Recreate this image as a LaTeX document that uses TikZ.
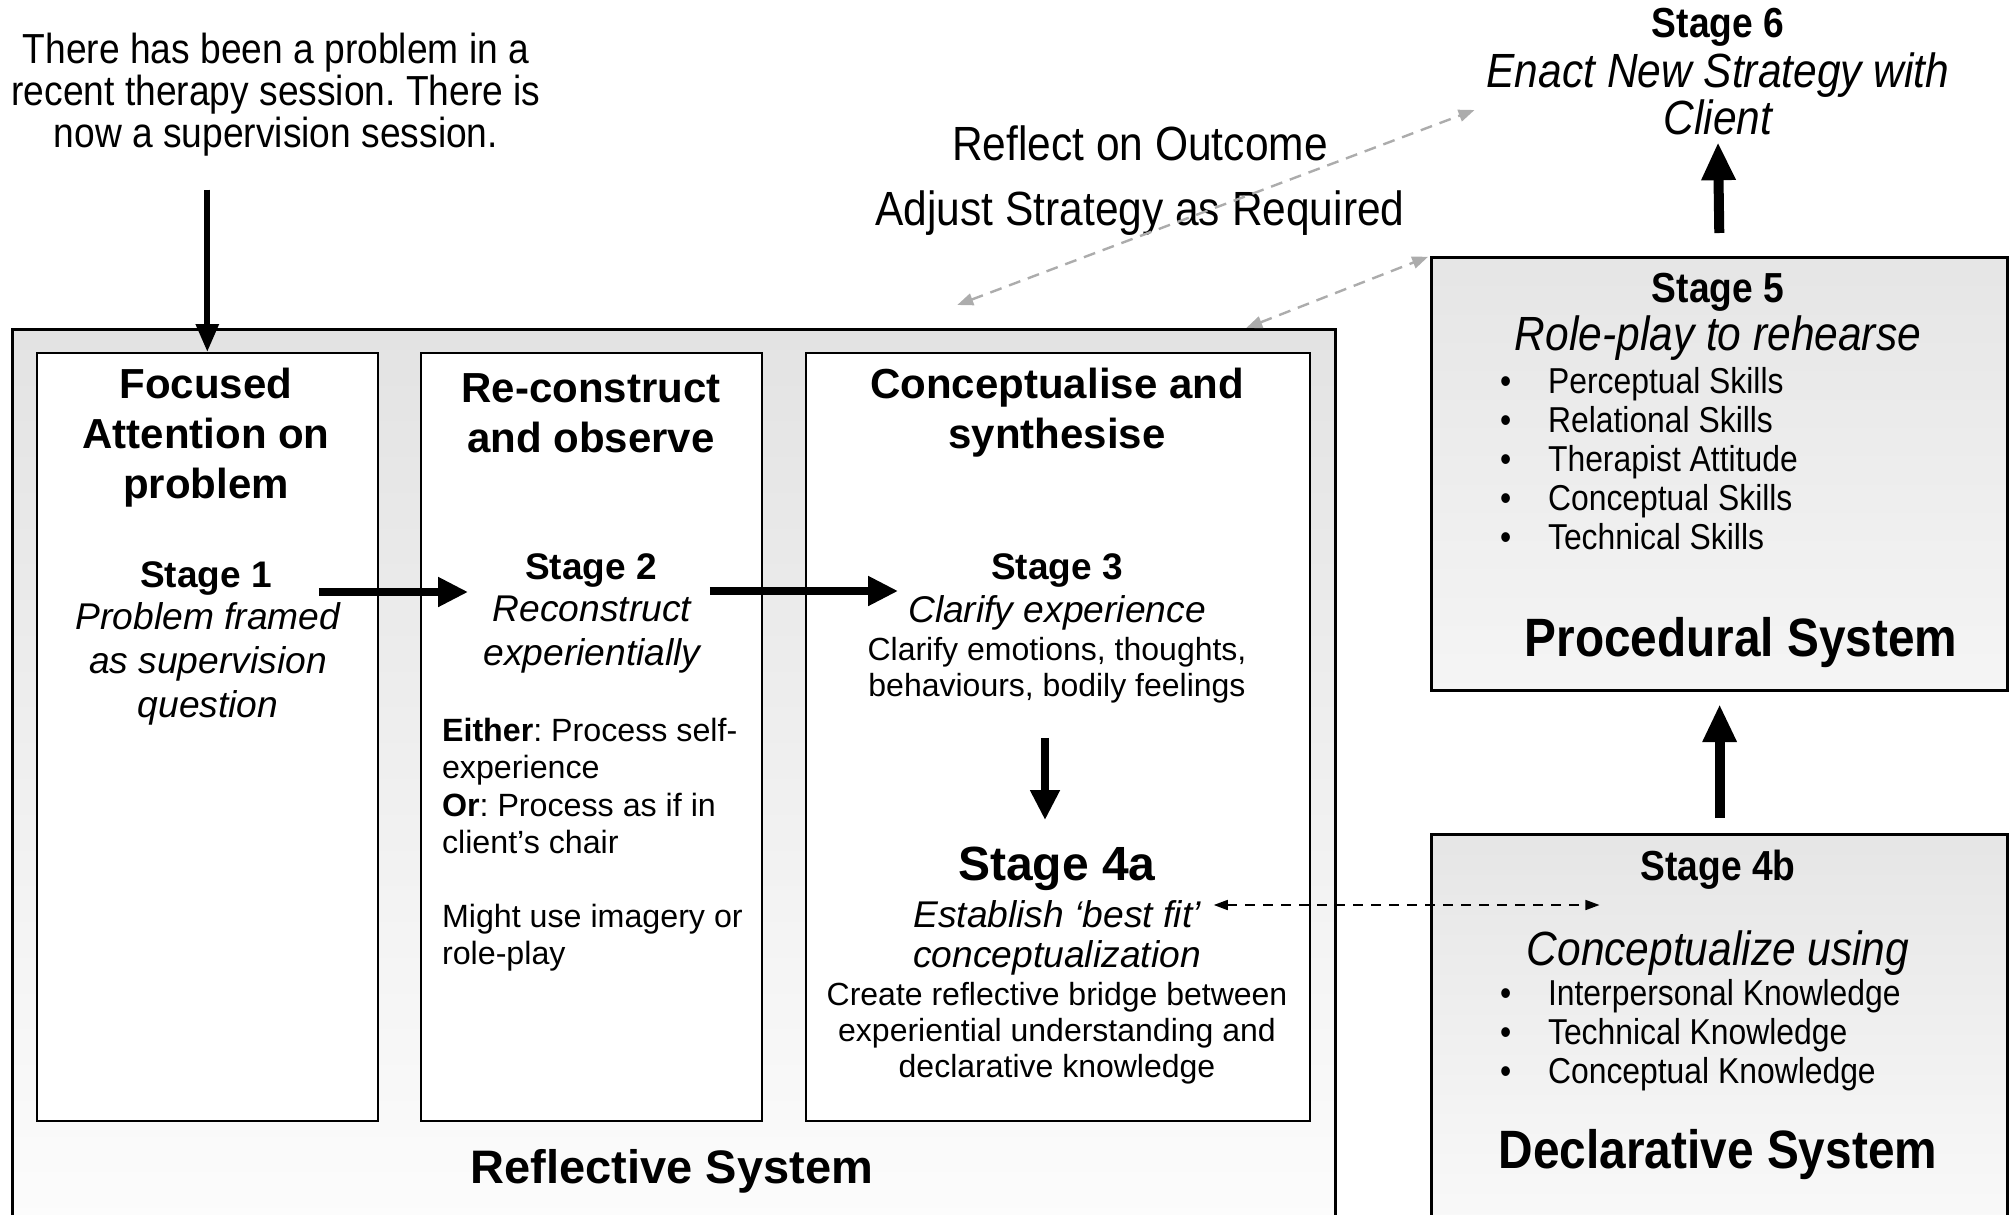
\documentclass[tikz,border=0pt]{standalone}
\usepackage{fontspec}
\setmainfont{Liberation Sans}
\newfontfamily\narrowfont[FakeStretch=0.885]{Liberation Sans}
\usetikzlibrary{arrows.meta}
\frenchspacing

\tikzset{
  sysbox/.style={draw, line width=1.6pt, inner sep=0pt},
  stagebox/.style={draw, fill=white, line width=0.8pt, inner sep=0pt},
  heading/.style={font=\fontsize{21}{25}\selectfont\bfseries, align=center},
  stagehead/.style={font=\fontsize{18.5}{22}\selectfont\bfseries},
  stageit/.style={font=\fontsize{18.6}{22}\selectfont\itshape, align=center},
  body/.style={font=\fontsize{16}{18}\selectfont, align=center},
  note/.style={font=\fontsize{16.1}{18.6}\selectfont, align=left},
  narrowhead/.style={font=\narrowfont\fontsize{21}{25}\selectfont\bfseries},
  narrowit/.style={font=\narrowfont\fontsize{24}{23.5}\selectfont\itshape, align=center},
  narrowlist/.style={font=\narrowfont\fontsize{18}{19.5}\selectfont, align=left},
  sysname/.style={font=\narrowfont\fontsize{27}{30}\selectfont\bfseries},
  fatarrow/.style={line width=4pt, -{Triangle[length=15pt,width=14pt]}},
  toparrow/.style={line width=3pt, -{Triangle[length=14pt,width=11pt]}},
  uparrow/.style={line width=5pt, -{Triangle[length=19pt,width=16pt]}},
  feedback/.style={draw=gray!65, line width=1.2pt, dash pattern=on 6pt off 4pt,
    {Triangle[length=8pt,width=6pt]}-{Triangle[length=8pt,width=6pt]}},
  linkarrow/.style={line width=0.8pt, dash pattern=on 5pt off 4pt,
    {Triangle[length=7pt,width=5pt]}-{Triangle[length=7pt,width=5pt]}},
}
\newcommand{\itm}[1]{\makebox[24pt][l]{\textbullet}#1}

\begin{document}
\begin{tikzpicture}[x=0.5pt, y=-0.5pt]
    \useasboundingbox (0,0) rectangle (2016,1214);
    % the three systems
    \node[sysbox, anchor=north west, minimum width=661.5pt, minimum height=456pt,
      top color=black!11, bottom color=black!1] (reflective) at (11,328) {};
    \node[sysbox, anchor=north west, minimum width=288pt, minimum height=216.5pt,
      top color=black!10, bottom color=black!4] (proc) at (1430,256) {};
    \node[sysbox, anchor=north west, minimum width=288pt, minimum height=203.5pt,
      top color=black!10, bottom color=black!2] (decl) at (1430,833) {};
    % stage columns
    \node[stagebox, anchor=north west, minimum width=170.5pt, minimum height=384pt] (focus) at (36,352) {};
    \node[stagebox, anchor=north west, minimum width=170.5pt, minimum height=384pt] (rebuild) at (420,352) {};
    \node[stagebox, anchor=north west, minimum width=252pt, minimum height=384pt] (synth) at (805,352) {};
    %
    \node[font=\narrowfont\fontsize{21}{21}\selectfont, align=center] (intro) at (276,95)
      {There has been a problem in a\\recent therapy session. There is\\now a supervision session.};
    %
    \node[heading] (focustitle) at (206,438) {Focused\\Attention on\\problem};
    \node[stagehead] (stageone) at (206,578) {Stage 1};
    \node[stageit] (framed) at (208,664) {Problem framed\\as supervision\\question};
    %
    \node[heading] (rebuildtitle) at (591,413) {Re-construct\\and observe};
    \node[stagehead] (stagetwo) at (591,570) {Stage 2};
    \node[stageit] (reconstruct) at (592,635) {Reconstruct\\experientially};
    \node[note, anchor=west] (options) at (435,845)
      {\textbf{Either}: Process self-\\experience\\\textbf{Or}: Process as if in\\client’s chair\\[18.6pt]Might use imagery or\\role-play};
    %
    \node[heading] (synthtitle) at (1057,413) {Conceptualise and\\synthesise};
    \node[stagehead] (stagethree) at (1057,570) {Stage 3};
    \node[stageit] (clarifyit) at (1057,613) {Clarify experience};
    \node[body] (clarify) at (1057,670) {Clarify emotions, thoughts,\\behaviours, bodily feelings};
    \node[font=\fontsize{24}{28}\selectfont\bfseries] (stagefour) at (1057,869) {Stage 4a};
    \node[stageit] (bestfit) at (1057,914) {Establish ‘best fit’};
    \node[stageit] (conceptual) at (1057,958) {conceptualization};
    \node[body] (bridge) at (1057,1033) {Create reflective bridge between\\experiential understanding and\\declarative knowledge};
    \node[font=\fontsize{23.5}{28}\selectfont\bfseries] (reflname) at (672,1171) {Reflective System};
    %
    \node[narrowhead] (stagesix) at (1718,27) {Stage 6};
    \node[narrowit] (enact) at (1718,94) {Enact New Strategy with\\Client};
    \node[font=\narrowfont\fontsize{24}{32.5}\selectfont, align=center] (outcome) at (1140,181)
      {Reflect on Outcome\\Adjust Strategy as Required};
    %
    \node[narrowhead] (stagefive) at (1718,292) {Stage 5};
    \node[narrowit] (rehearse) at (1718,338) {Role-play to rehearse};
    \node[narrowlist, anchor=west] (skills) at (1493,459)
      {\itm{Perceptual Skills}\\\itm{Relational Skills}\\\itm{Therapist Attitude}\\\itm{Conceptual Skills}\\\itm{Technical Skills}};
    \node[sysname] (procname) at (1741,643) {Procedural System};
    %
    \node[narrowhead] (stagefourb) at (1718,870) {Stage 4b};
    \node[narrowit] (using) at (1718,953) {Conceptualize using};
    \node[narrowlist, anchor=west] (knowledge) at (1493,1035)
      {\itm{Interpersonal Knowledge}\\\itm{Technical Knowledge}\\\itm{Conceptual Knowledge}};
    \node[sysname] (declname) at (1718,1155) {Declarative System};
    % connectors
    \draw[toparrow, shorten <=13pt] (intro.south -| focus.north) -- (focus.north);
    \draw[fatarrow, shorten <=20pt, shorten >=25pt] ([yshift=-7pt]stageone.east) -- ([yshift=-7pt]stageone.east -| stagetwo.west);
    \draw[fatarrow, shorten <=23pt, shorten >=43pt] ([yshift=-10.5pt]stagetwo.east) -- ([yshift=-10.5pt]stagetwo.east -| stagethree.west);
    \draw[fatarrow, shorten <=14pt, shorten >=10pt] ([xshift=-6pt]clarify.south -| stagefour.north) -- ([xshift=-6pt]stagefour.north);
    \draw[linkarrow, shorten <=3pt, shorten >=17pt] ([yshift=4.5pt]bestfit.east) -- ([yshift=4.5pt]bestfit.east -| stagefourb.west);
    \draw[uparrow, shorten <=7.5pt, shorten >=6pt] (decl.north) -- (proc.south);
    \draw[uparrow, shorten <=11.5pt] (proc.north) -- (enact.south);
    \draw[feedback] ([xshift=-190pt,yshift=11.5pt]reflective.north east) -- ([xshift=-2.5pt,yshift=-8pt]enact.west);
    \draw[feedback, shorten >=1pt] ([xshift=-45.5pt]reflective.north east) -- (proc.north west);
\end{tikzpicture}
\end{document}
